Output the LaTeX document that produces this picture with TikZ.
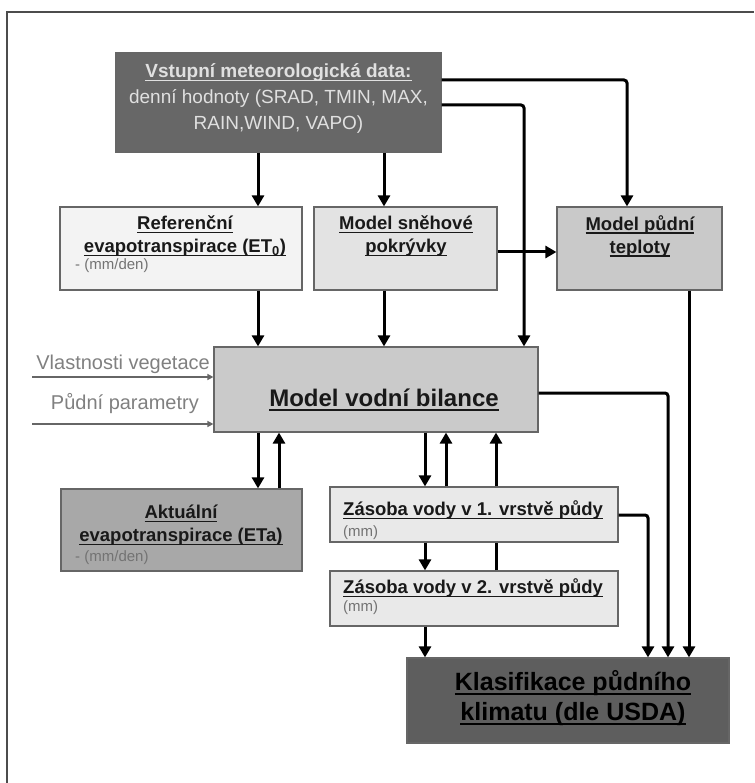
\documentclass[tikz,border=0pt]{standalone}
\usepackage{fontspec}
\setmainfont{Liberation Sans}
\usepackage{tikz}
\usetikzlibrary{arrows.meta,positioning}
\newsavebox{\ulbox}
\newcommand{\ulin}[1]{\sbox{\ulbox}{#1}\rlap{\usebox{\ulbox}}\rule[-0.19em]{\wd\ulbox}{0.07em}}
\definecolor{inpfill}{HTML}{676767}
\definecolor{reffill}{HTML}{F3F3F3}
\definecolor{snowfill}{HTML}{E3E3E3}
\definecolor{tempfill}{HTML}{C9C9C9}
\definecolor{wbfill}{HTML}{CACACA}
\definecolor{etafill}{HTML}{A8A8A8}
\definecolor{layfill}{HTML}{E9E9E9}
\definecolor{klfill}{HTML}{5E5E5E}

\begin{document}
\begin{tikzpicture}[x=1pt,y=-1pt,
  box/.style={draw=black!60,line width=1.2pt,inner sep=0pt},
  ttl/.style={font=\fontsize{18.5}{23}\selectfont\bfseries,text=black!90,align=center,inner sep=0pt},
  sub/.style={font=\fontsize{15}{17}\selectfont,text=black!55,inner sep=0pt,anchor=west},
  side/.style={font=\fontsize{20}{22}\selectfont,text=black!50,inner sep=0pt,anchor=east},
  arr/.style={line width=3pt,-{Triangle[length=11pt,width=12pt]}},
  elbow/.style={rounded corners=3pt},
  garr/.style={line width=1.6pt,black!60,-{Triangle[length=6pt,width=6pt]}}]
\useasboundingbox (0,0) rectangle (754,783);
\draw[line width=1.2pt,black!70] (7,783) -- (7,12) -- (754,12);

% boxes
\node[box,fill=inpfill,minimum width=325,minimum height=99] (inp) at (278.5,102.5) {};
\node[box,fill=reffill,minimum width=242,minimum height=83] (et0) at (181,248.5) {};
\node[box,fill=snowfill,minimum width=183,minimum height=83] (snow) at (405.5,248.5) {};
\node[box,fill=tempfill,minimum width=165,minimum height=83] (temp) at (639.5,248.5) {};
\node[box,fill=wbfill,minimum width=324,minimum height=85] (wb) at (376,389.5) {};
\node[box,fill=etafill,minimum width=241,minimum height=82] (eta) at (181.5,530) {};
\node[box,fill=layfill,minimum width=288,minimum height=55] (l1) at (474,514.5) {};
\node[box,fill=layfill,minimum width=288,minimum height=55] (l2) at (474,598.5) {};
\node[box,fill=klfill,minimum width=322,minimum height=85] (kl) at (568,700.5) {};

% texts
\node[align=center,inner sep=0pt,text=black!12,font=\fontsize{19}{26}\selectfont] (inpt) at (278.5,98.5)
  {\textbf{\ulin{Vstupní meteorologická data:}}\\denní hodnoty (SRAD, TMIN, MAX,\\RAIN,WIND, VAPO)};
\node[ttl] (et0t) at (185,236) {\ulin{Referenční}\\\ulin{evapotranspirace (ET\textsubscript{0})}};
\node[sub] (et0u) at (75,266) {- (mm/den)};
\node[ttl] (snowt) at (406,236) {\ulin{Model sněhové}\\\ulin{pokrývky}};
\node[ttl] (tempt) at (640,236) {\ulin{Model půdní}\\\ulin{teploty}};
\node[ttl,font=\fontsize{24}{28}\selectfont\bfseries] (wbt) at (384,400) {\ulin{Model vodní bilance}};
\node[ttl] (etat) at (181,525) {\ulin{Aktuální}\\\ulin{evapotranspirace (ETa)}};
\node[sub] (etau) at (75,558) {- (mm/den)};
\node[ttl,anchor=west] (l1t) at (343,510) {\ulin{Zásoba vody v 1. vrstvě půdy}};
\node[sub] (l1u) at (343,533) {(mm)};
\node[ttl,anchor=west] (l2t) at (343,588) {\ulin{Zásoba vody v 2. vrstvě půdy}};
\node[sub] (l2u) at (343,608) {(mm)};
\node[ttl,font=\fontsize{25}{30}\selectfont\bfseries,text=black] (klt) at (573,698)
  {\ulin{Klasifikace půdního}\\\ulin{klimatu (dle USDA)}};
\node[side] (vgt) at (210,364) {Vlastnosti vegetace};
\node[side] (ppt) at (199,404) {Půdní parametry};

% lanes
\coordinate (xA) at (258,0);
\coordinate (xB) at (279,0);
\coordinate (xC) at (384,0);
\coordinate (xD) at (425,0);
\coordinate (xE) at (446,0);
\coordinate (xF) at (496,0);
\coordinate (xG) at (524,0);
\coordinate (xH) at (627,0);
\coordinate (xI) at (648,0);
\coordinate (xJ) at (668,0);
\coordinate (xK) at (689,0);
\coordinate (yA) at (0,80);
\coordinate (yB) at (0,105);
\coordinate (yS) at (0,252);
\coordinate (yW) at (0,393);
\coordinate (yL) at (0,515);
\coordinate (vg) at (32,377);
\coordinate (pp) at (32,424);

% arrows
\draw[arr] (inp.south -| xA) -- (et0.north -| xA);
\draw[arr] (inp.south -| xC) -- (snow.north -| xC);
\draw[arr,elbow] (inp.east |- yA) -| (temp.north -| xH);
\draw[arr,elbow] (inp.east |- yB) -| (wb.north -| xG);
\draw[arr] (snow.east |- yS) -- (temp.west |- yS);
\draw[arr] (et0.south -| xA) -- (wb.north -| xA);
\draw[arr] (snow.south -| xC) -- (wb.north -| xC);
\draw[arr] (wb.south -| xA) -- (eta.north -| xA);
\draw[arr] (eta.north -| xB) -- (wb.south -| xB);
\draw[arr] (wb.south -| xD) -- (l1.north -| xD);
\draw[arr] (l1.north -| xE) -- (wb.south -| xE);
\draw[arr] (l1.north -| xF) -- (wb.south -| xF);
\draw[line width=3pt] (l2.north -| xF) -- (l1.south -| xF);
\draw[arr] (l1.south -| xD) -- (l2.north -| xD);
\draw[arr] (l2.south -| xD) -- (kl.north -| xD);
\draw[arr,elbow] (l1.east |- yL) -| (kl.north -| xI);
\draw[arr,elbow] (wb.east |- yW) -| (kl.north -| xJ);
\draw[arr] (temp.south -| xK) -- (kl.north -| xK);
\draw[garr] (vg) -- (wb.west |- vg);
\draw[garr] (pp) -- (wb.west |- pp);
\end{tikzpicture}
\end{document}
